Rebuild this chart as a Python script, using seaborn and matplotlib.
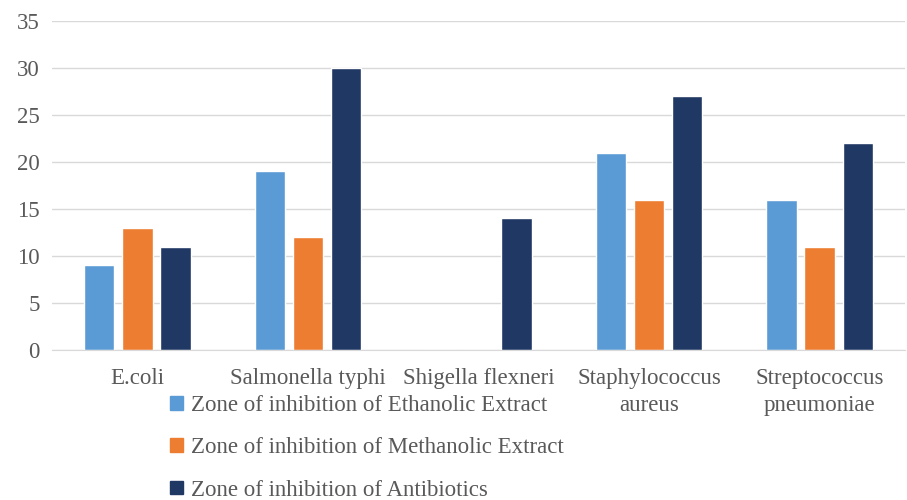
import matplotlib
matplotlib.use("Agg")
import matplotlib.pyplot as plt
import seaborn as sns
import pandas as pd

categories = ["E.coli", "Salmonella typhi", "Shigella flexneri",
              "Staphylococcus\naureus", "Streptococcus\npneumoniae"]
ethanolic = [9, 19, 0, 21, 16]
methanolic = [13, 12, 0, 16, 11]
antibiotics = [11, 30, 14, 27, 22]
series_names = ["Zone of inhibition of Ethanolic Extract",
                "Zone of inhibition of Methanolic Extract",
                "Zone of inhibition of Antibiotics"]
colors = ["#5B9BD5", "#ED7D31", "#203864"]

rows = []
for name, vals in zip(series_names, [ethanolic, methanolic, antibiotics]):
    for cat, v in zip(categories, vals):
        rows.append({"category": cat, "series": name, "value": v})
df = pd.DataFrame(rows)

sns.set_style("white")
plt.rcParams["font.family"] = ["Liberation Serif", "DejaVu Serif"]
text_color = "#595959"
fs = 16.5

fig = plt.figure(figsize=(9.07, 5.0), dpi=100)
ax = fig.add_axes([52 / 907, 1 - 350 / 500, (905 - 52) / 907, (350 - 21) / 500])

sns.barplot(data=df, x="category", y="value", hue="series", palette=colors,
            width=0.67, gap=0.2, ax=ax, legend=False, saturation=1)

ax.set_ylim(0, 35)
ax.set_xlim(-0.5, 4.5)
ax.set_yticks(range(0, 36, 5))
ax.yaxis.grid(True, color="#D9D9D9", linewidth=1)
ax.set_axisbelow(True)
for s in ["top", "right", "left"]:
    ax.spines[s].set_visible(False)
ax.spines["bottom"].set_color("#D9D9D9")
ax.set_xlabel("")
ax.set_ylabel("")
ax.tick_params(axis="both", length=0, labelsize=fs, colors=text_color)
ax.tick_params(axis="y", pad=9)
ax.tick_params(axis="x", pad=13)
for lbl in ax.get_xticklabels():
    lbl.set_linespacing(1.35)

handles = [plt.Rectangle((0, 0), 1, 1, color=c) for c in colors]
leg = fig.legend(handles, series_names, loc="upper left",
                 bbox_to_anchor=(170 / 907, 1 - 395 / 500), frameon=False,
                 fontsize=fs, labelcolor=text_color, handlelength=0.55,
                 handleheight=0.55, handletextpad=0.35, labelspacing=0.93,
                 borderaxespad=0, borderpad=0)

fig.savefig("out.png", dpi=100)
